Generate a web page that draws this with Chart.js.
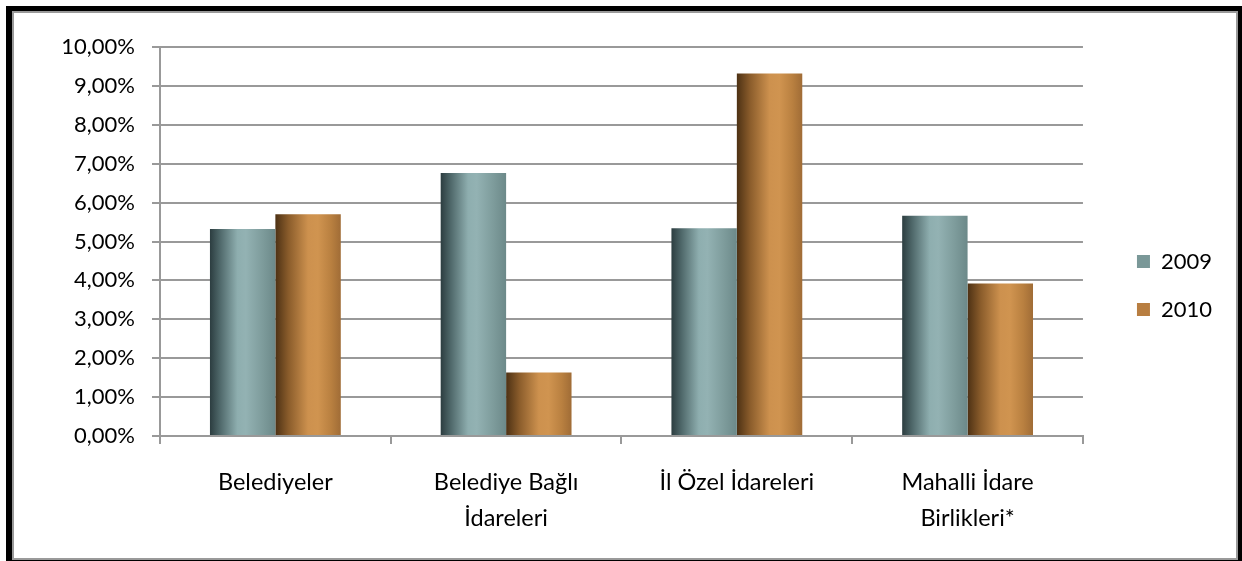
<!DOCTYPE html>
<html lang="tr">
<head>
<meta charset="UTF-8">
<script src="https://cdn.jsdelivr.net/npm/chart.js@4.4.0/dist/chart.umd.min.js"></script>
<style>
  html, body { margin: 0; padding: 0; background: #fff; overflow: hidden; }
  #frame { position: absolute; left: 6px; top: 6px; width: 1250px; height: 570px; background: #000; }
  #inner { position: absolute; left: 12px; top: 11px; width: 1222px; height: 545px; border: 2px solid #9a9a9a; background: #fff; }
  #wrap { position: absolute; left: 0; top: 0; width: 1242px; height: 561px; }
</style>
</head>
<body>
<div id="frame"></div>
<div id="inner"></div>
<div id="wrap"><canvas id="chart"></canvas></div>

<script>
// veriler
var categories = ['Belediyeler', ['Belediye Bağlı', 'İdareleri'], 'İl Özel İdareleri', ['Mahalli İdare', 'Birlikleri*']];
var seriesNames = ['2009', '2010'];
var values2009 = [5.32, 6.76, 5.34, 5.66];
var values2010 = [5.70, 1.63, 9.32, 3.92];
var yMax = 10;
var yStep = 1;

var legendColors = ['#7a9898', '#b87e41'];
// silindir görünümü için yatay gradyan
var shades = [
  [[0, '#2c3d40'], [0.15, '#4e6769'], [0.42, '#8eaeaf'], [0.55, '#93b2b3'], [0.8, '#7e9c9c'], [1, '#6c8989']],
  [[0, '#4d3114'], [0.2, '#8a5c2b'], [0.5, '#cd914e'], [0.65, '#d09450'], [0.85, '#b98040'], [1, '#a06c36']]
];

Chart.defaults.font.family = "Lato, 'Open Sans', sans-serif";
Chart.defaults.color = '#000';

var barShade = {
  id: 'barShade',
  beforeDatasetsDraw: function(chart) {
    var ctx = chart.ctx;
    chart.data.datasets.forEach(function(ds, di) {
      var meta = chart.getDatasetMeta(di);
      meta.data.forEach(function(bar) {
        var left = bar.x - bar.width / 2;
        var g = ctx.createLinearGradient(left, 0, left + bar.width, 0);
        shades[di].forEach(function(s) { g.addColorStop(s[0], s[1]); });
        bar.options.backgroundColor = g;
      });
    });
  }
};

var ctx = document.getElementById('chart').getContext('2d');
var chart = new Chart(ctx, {
  type: 'bar',
  data: {
    labels: categories,
    datasets: [
      {
        label: seriesNames[0],
        data: values2009,
        backgroundColor: function() { return legendColors[0]; },
      },
      {
        label: seriesNames[1],
        data: values2010,
        backgroundColor: function() { return legendColors[1]; },
      },
    ],
  },
  options: {
    animation: false,
    responsive: true,
    maintainAspectRatio: false,
    layout: { padding: { left: 0, top: 23, right: 20, bottom: 13 } },
    datasets: {
      bar: {
        categoryPercentage: 0.567,
        barPercentage: 1.0,
        borderWidth: 0,
      }
    },
    plugins: {
      tooltip: { enabled: false },
      // boş başlık: sadece grafik alanını aşağı iter, göstergeyi değil
      title: {
        display: true,
        text: '',
        fullSize: false,
        padding: 0,
        font: { size: 12, lineHeight: 2 },
      },
      legend: {
        position: 'right',
        labels: {
          boxWidth: 13,
          boxHeight: 13,
          padding: 26,
          font: { size: 22 },
          color: '#000',
          generateLabels: function(c) {
            return c.data.datasets.map(function(ds, i) {
              return { text: ds.label, fillStyle: legendColors[i], strokeStyle: legendColors[i], lineWidth: 0, datasetIndex: i };
            });
          }
        }
      },
    },
    scales: {
      x: {
        grid: { display: true, drawOnChartArea: false, tickLength: 8, color: '#999', lineWidth: 2, offset: true },
        border: { color: '#999', width: 2 },
        ticks: { padding: 20, font: { size: 23.5, lineHeight: 36 / 23.5 }, color: '#000', maxRotation: 0, autoSkip: false },
        afterFit: function(scale) { scale.height = 112; },
      },
      y: {
        min: 0,
        max: yMax,
        grid: { color: '#999', lineWidth: 2, tickLength: 8 },
        border: { color: '#999', width: 2 },
        ticks: {
          stepSize: yStep,
          padding: 17,
          font: { size: 22 },
          color: '#000',
          callback: function(value) {
            return value.toFixed(2).replace('.', ',') + '%';
          },
        },
        afterFit: function(scale) { scale.width = 160; },
      },
      gap: {
        type: 'linear',
        position: 'right',
        display: true,
        grid: { display: false },
        border: { display: false },
        ticks: { display: false },
        afterFit: function(scale) { scale.width = 28; },
      },
    },
  },
  plugins: [barShade],
});
</script>
</body>
</html>
